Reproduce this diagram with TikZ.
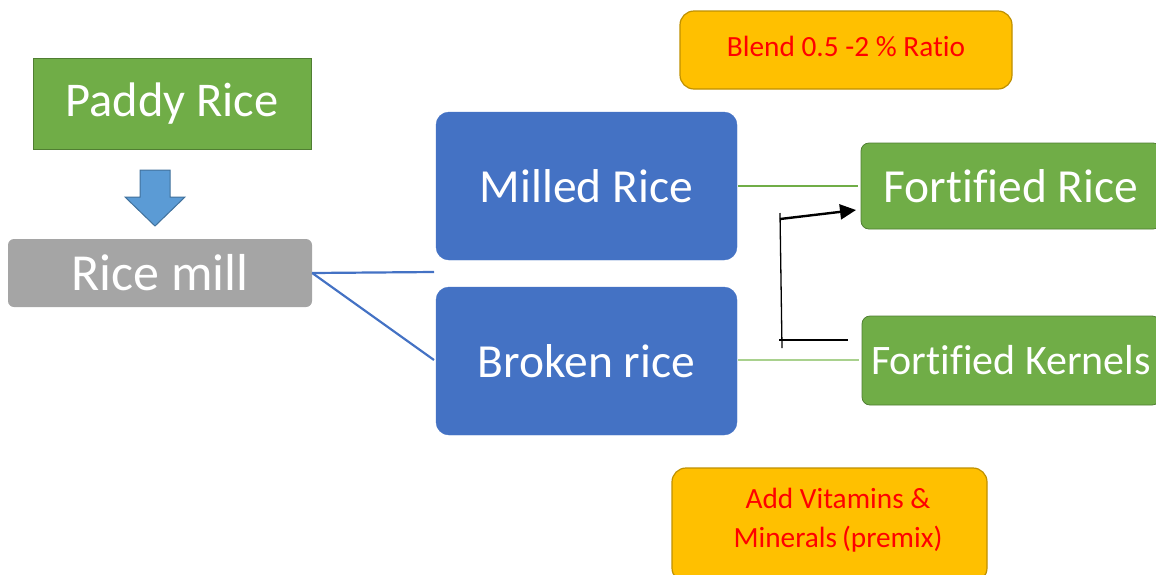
\documentclass[tikz,border=0pt]{standalone}
\usepackage{fontspec}
\setmainfont[Ligatures=NoCommon]{Carlito}
\usetikzlibrary{arrows.meta}
\definecolor{gfill}{HTML}{70AD47}
\definecolor{gline}{HTML}{507E32}
\definecolor{bfill}{HTML}{4472C4}
\definecolor{bline}{HTML}{2F528F}
\definecolor{afill}{HTML}{5B9BD5}
\definecolor{aline}{HTML}{41719C}
\definecolor{gray1}{HTML}{A5A5A5}
\definecolor{ofill}{HTML}{FFC000}
\definecolor{oline}{HTML}{BF9000}
\definecolor{lgreen}{HTML}{A9D18E}
\tikzset{
  bigtxt/.style={text=white,font=\fontsize{47.5}{55}\selectfont},
  greenbox/.style={fill=gfill,draw=gline,line width=0.8pt,bigtxt,inner sep=0pt},
  bluebox/.style={fill=bfill,draw=bfill,rounded corners=13pt,bigtxt,inner sep=0pt,minimum width=301pt,minimum height=148pt},
  orangebox/.style={fill=ofill,draw=oline,line width=1.2pt,rounded corners=14pt,text=red,font=\fontsize{29.3}{39}\selectfont,inner sep=0pt,align=center},
  blueline/.style={draw=bfill,line width=2.2pt},
  greenline/.style={draw=gfill,line width=2pt},
}
\begin{document}
\begin{tikzpicture}[x=1pt,y=-1pt]
\useasboundingbox (0,0) rectangle (1156,574);
\clip (0,0) rectangle (1156,574);
% boxes
\node[greenbox,minimum width=278pt,minimum height=91pt,font=\fontsize{48.5}{55}\selectfont] (paddy) at (172,103.5) {Paddy Rice};
\node[fill=gray1,rounded corners=6pt,bigtxt,font=\fontsize{52}{60}\selectfont,inner sep=0pt,minimum width=304pt,minimum height=68pt] (mill) at (160,273) {Rice mill};
\node[bluebox] (milled) at (586.5,186) {Milled Rice};
\node[bluebox] (broken) at (586.5,361) {Broken rice};
\node[greenbox,rounded corners=8pt,minimum width=300pt,minimum height=86pt] (frice) at (1011,186) {Fortified Rice};
\node[greenbox,rounded corners=8pt,minimum width=298pt,minimum height=89pt,font=\fontsize{42}{50}\selectfont] (fkern) at (1011,360.5) {Fortified Kernels};
\node[orangebox,minimum width=332pt,minimum height=78pt] (blend) at (846,50) {};
\node[text=red,font=\fontsize{29.3}{39}\selectfont,inner sep=0pt] (blendt) at (846,46) {Blend 0.5 -2 \% Ratio};
\node[orangebox,minimum width=315pt,minimum height=114pt] (addv) at (829.5,525) {};
\node[text=red,font=\fontsize{29.3}{39}\selectfont,align=center,inner sep=0pt] (addvt) at (838,520) {Add Vitamins \&\\Minerals\,(premix)};
% down arrow
\draw[fill=afill,draw=aline,line width=1pt,line join=miter] (140,170) -- (170,170) -- (170,197) -- (185,197) -- (155,226) -- (125,197) -- (140,197) -- cycle;
% connectors
\coordinate (m1) at (434,272);
\coordinate (m2) at (434,360);
\draw[blueline] (mill.east) -- (m1);
\draw[blueline] (mill.east) -- (m2);
\draw[greenline] ([xshift=1pt]milled.east) -- ([xshift=-3pt]frice.west);
\draw[draw=lgreen,line width=2pt] ([xshift=1pt]broken.east |- 0,360) -- ([xshift=-3pt]fkern.west |- 0,360);
\coordinate (v1) at (780,213);
\coordinate (v2) at (782,348);
\coordinate (h1) at (779,340);
\coordinate (h2) at (848,340);
\coordinate (a1) at (780,219);
\coordinate (a2) at (856,210);
\draw[line width=1.3pt] (v1) -- (v2);
\draw[line width=1.3pt] (h1) -- (h2);
\draw[line width=2.4pt,-{Triangle[length=16pt,width=15pt]}] (a1) -- (a2);
\end{tikzpicture}
\end{document}
